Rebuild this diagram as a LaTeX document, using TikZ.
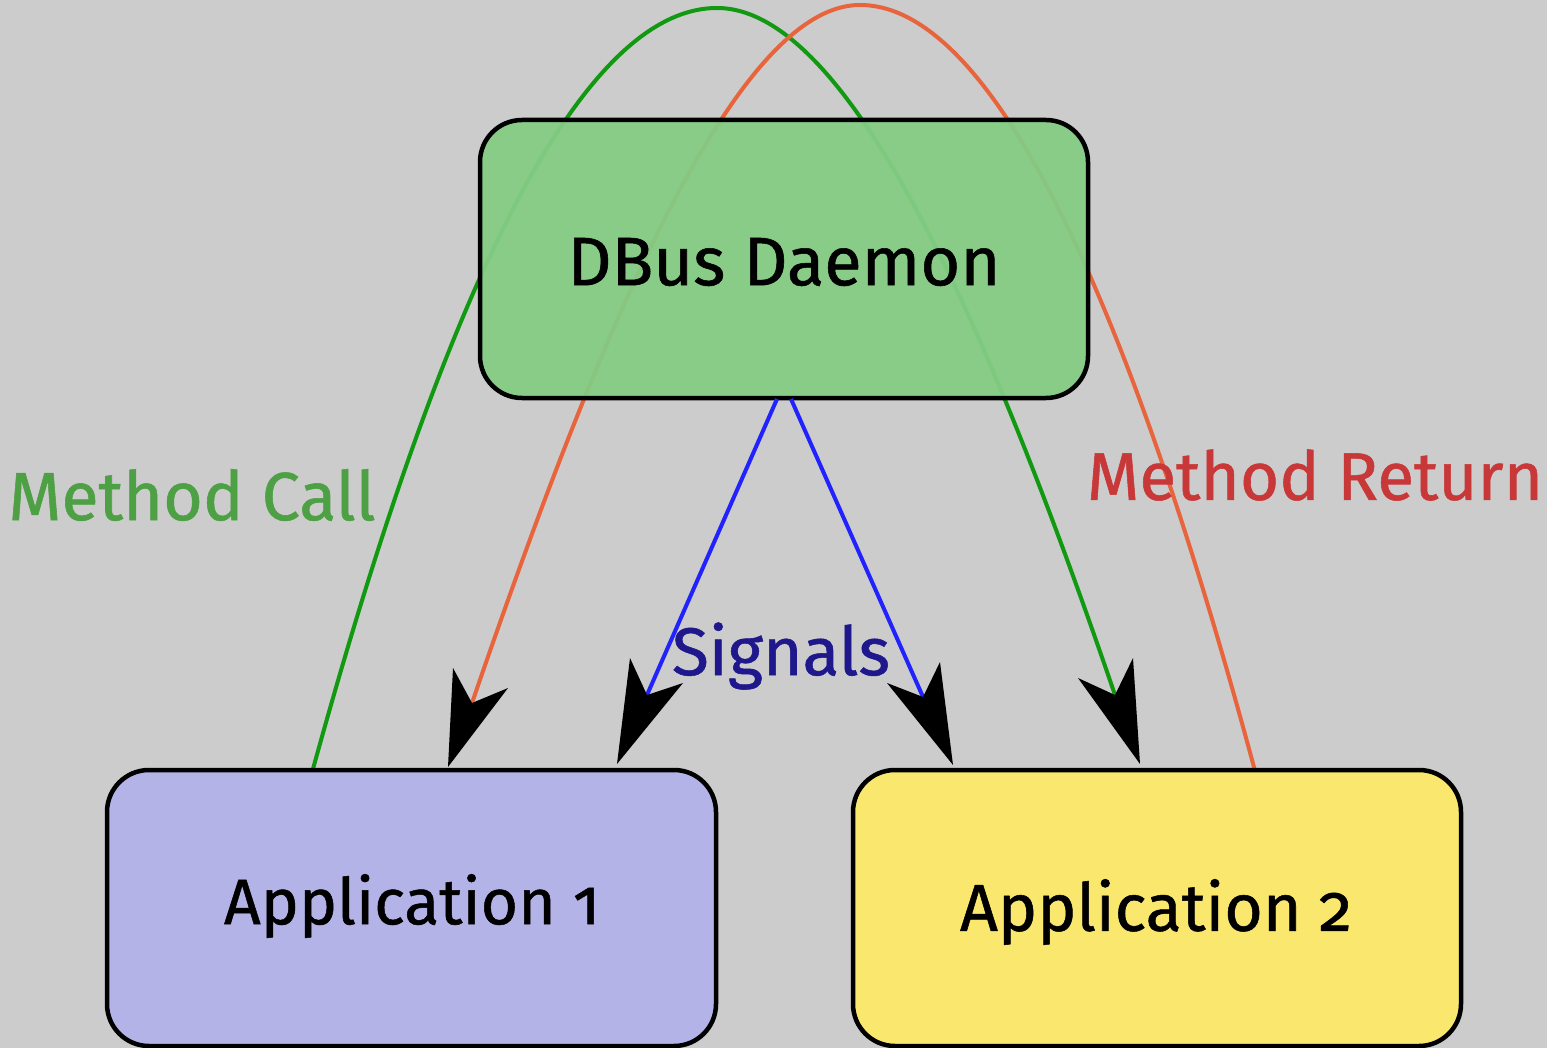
\documentclass[tikz,border=0pt]{standalone}
\usepackage{fontspec}
\setmainfont[Numbers=OldStyle, FakeBold=0.8]{Fira Sans}
\definecolor{bg}{RGB}{204,204,204}
\definecolor{dbusfill}{RGB}{132,204,132}
\definecolor{appa}{RGB}{179,179,232}
\definecolor{appb}{RGB}{249,231,110}
\definecolor{callc}{RGB}{17,153,17}
\definecolor{retc}{RGB}{232,100,60}
\definecolor{sigc}{RGB}{34,34,255}
\definecolor{calltxt}{RGB}{78,160,68}
\definecolor{rettxt}{RGB}{200,56,56}
\definecolor{sigtxt}{RGB}{30,24,140}
\tikzset{
  box/.style={draw=black, line width=4.5pt, rounded corners=42pt, inner sep=0pt},
  conn/.style={line width=4pt},
  headfill/.style={fill=black},
  lbl/.style={inner sep=0pt, anchor=center},
}
\begin{document}
\begin{tikzpicture}[x=1pt,y=-1pt]
\fill[bg] (0,0) rectangle (1547,1048);
\useasboundingbox (0,0) rectangle (1547,1048);

% named coordinates (connector ends)
\coordinate (callstart) at (313,769);
\coordinate (callpeak) at (717,8);
\coordinate (callend) at (1115,695);
\coordinate (retstart) at (1255,771);
\coordinate (retpeak) at (860,5);
\coordinate (retend) at (472,703);
\coordinate (sigLs) at (777,399);
\coordinate (sigLe) at (647,695);
\coordinate (sigRs) at (791,399);
\coordinate (sigRe) at (923,697);

% curves
\draw[conn, callc] (callstart) .. controls (420,380) and (560,8) .. (callpeak)
   .. controls (850,8) and (990,330) .. (callend);
\draw[conn, retc] (retstart) .. controls (1150,380) and (1010,5) .. (retpeak)
   .. controls (735,5) and (600,330) .. (retend);

% boxes
\node[box, fill=dbusfill, fill opacity=0.94, text opacity=1, minimum width=608pt, minimum height=278pt] (dbus) at (784,259) {};
\node[box, fill=appa, minimum width=609pt, minimum height=276pt] (app1) at (411.5,908) {};
\node[box, fill=appb, minimum width=608pt, minimum height=276pt] (app2) at (1157,908) {};

% signals
\draw[conn, sigc] (sigLs) -- (sigLe);
\draw[conn, sigc] (sigRs) -- (sigRe);

% arrowheads
\fill[headfill] (448,767) -- (453,668) -- (retend) -- (508,688) -- cycle;
\fill[headfill] (617,764) -- (630,658) -- (sigLe) -- (683,683) -- cycle;
\fill[headfill] (953,765) -- (887,683) -- (sigRe) -- (940,662) -- cycle;
\fill[headfill] (1140,764) -- (1078,678) -- (callend) -- (1133,658) -- cycle;

% texts
\node[lbl] (tdbus) at (784,262) {\resizebox{433pt}{!}{DBus Daemon}};
\node[lbl] (tapp1) at (412,906) {\resizebox{376pt}{!}{Application 1}};
\node[lbl] (tapp2) at (1156,912) {\resizebox{392pt}{!}{Application 2}};
\node[lbl, text=calltxt] (tcall) at (192,495) {\resizebox{367pt}{!}{Method Call}};
\node[lbl, text=rettxt] (tret) at (1315,475) {\resizebox{456pt}{!}{Method Return}};
\node[lbl, text=sigtxt] (tsig) at (781,656) {\resizebox{218pt}{!}{Signals}};
\end{tikzpicture}
\end{document}
